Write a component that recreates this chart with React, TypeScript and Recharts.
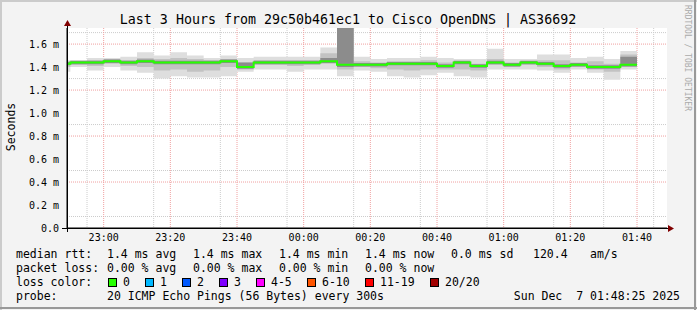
import { Area, CartesianGrid, ComposedChart, Line, XAxis, YAxis } from "recharts";

// 5-minute slots (start of each step), last one ends at endSlot
const slots = [
  "22:45", "22:50", "22:55", "23:00", "23:05", "23:10", "23:15", "23:20", "23:25",
  "23:30", "23:35", "23:40", "23:45", "23:50", "23:55", "00:00", "00:05", "00:10",
  "00:15", "00:20", "00:25", "00:30", "00:35", "00:40", "00:45", "00:50", "00:55",
  "01:00", "01:05", "01:10", "01:15", "01:20", "01:25", "01:30", "01:35",
];
const endSlot = "01:40";

// milliseconds
const median = [
  1.43, 1.44, 1.44, 1.45, 1.44, 1.45, 1.44, 1.44, 1.44, 1.44, 1.45, 1.4, 1.44, 1.44,
  1.44, 1.44, 1.45, 1.42, 1.42, 1.42, 1.43, 1.43, 1.43, 1.41, 1.44, 1.41, 1.44, 1.42,
  1.44, 1.43, 1.41, 1.42, 1.4, 1.4, 1.42,
];
const pingMax = [
  1.46, 1.46, 1.48, 1.48, 1.49, 1.53, 1.5, 1.53, 1.5, 1.48, 1.5, 1.48, 1.49, 1.49,
  1.49, 1.49, 1.57, 2.4, 1.49, 1.47, 1.48, 1.48, 1.49, 1.48, 1.47, 1.47, 1.56, 1.47,
  1.47, 1.51, 1.51, 1.48, 1.49, 1.47, 1.54,
];
const pingMin = [
  1.36, 1.4, 1.37, 1.4, 1.37, 1.35, 1.3, 1.32, 1.31, 1.31, 1.32, 1.36, 1.38, 1.38,
  1.36, 1.38, 1.38, 1.32, 1.37, 1.36, 1.32, 1.31, 1.33, 1.35, 1.32, 1.31, 1.38, 1.38,
  1.38, 1.37, 1.35, 1.38, 1.35, 1.29, 1.38,
];
const upper2 = [
  1.45, 1.45, 1.46, 1.47, 1.46, 1.48, 1.47, 1.48, 1.47, 1.46, 1.47, 1.44, 1.46, 1.46,
  1.46, 1.46, 1.52, 2.1, 1.45, 1.44, 1.45, 1.45, 1.46, 1.44, 1.45, 1.43, 1.47, 1.44,
  1.45, 1.46, 1.46, 1.44, 1.45, 1.43, 1.51,
];
const lower2 = [
  1.4, 1.42, 1.41, 1.43, 1.41, 1.4, 1.37, 1.38, 1.36, 1.37, 1.4, 1.38, 1.42, 1.42,
  1.41, 1.42, 1.43, 1.38, 1.4, 1.39, 1.38, 1.37, 1.38, 1.38, 1.38, 1.37, 1.42, 1.4,
  1.42, 1.4, 1.38, 1.4, 1.38, 1.36, 1.4,
];
const upper3 = [
  1.445, 1.455, 1.455, 1.465, 1.455, 1.465, 1.455, 1.455, 1.455, 1.455, 1.465, 1.44,
  1.455, 1.455, 1.455, 1.455, 1.48, 1.95, 1.435, 1.435, 1.445, 1.445, 1.445, 1.425,
  1.455, 1.425, 1.455, 1.435, 1.455, 1.445, 1.425, 1.435, 1.415, 1.415, 1.49,
];
const lower3 = [
  1.415, 1.425, 1.425, 1.435, 1.425, 1.435, 1.425, 1.425, 1.425, 1.425, 1.435, 1.385,
  1.425, 1.425, 1.425, 1.425, 1.435, 1.4, 1.405, 1.405, 1.415, 1.415, 1.415, 1.395,
  1.425, 1.395, 1.425, 1.405, 1.425, 1.415, 1.395, 1.405, 1.385, 1.385, 1.405,
];

const xLabels = ["23:00", "23:20", "23:40", "00:00", "00:20", "00:40", "01:00", "01:20", "01:40"];
const yTicks = [0, 0.2, 0.4, 0.6, 0.8, 1.0, 1.2, 1.4, 1.6];
const yMinor = [0.1, 0.3, 0.5, 0.7, 0.9, 1.1, 1.3, 1.5, 1.7];
const viewStart = "22:49";
const viewEnd = "01:49";

const lossLegend = [
  { label: "0", color: "#26ff00", x: 108 },
  { label: "1", color: "#00b8ff", x: 145 },
  { label: "2", color: "#0059ff", x: 182 },
  { label: "3", color: "#7e00ff", x: 219 },
  { label: "4-5", color: "#ff00ff", x: 256 },
  { label: "6-10", color: "#ff5500", x: 307 },
  { label: "11-19", color: "#ff0000", x: 365 },
  { label: "20/20", color: "#a10000", x: 430 },
];

const toMin = (s: string) => {
  const [h, m] = s.split(":").map(Number);
  const v = h * 60 + m;
  return h >= 12 ? v - 1440 : v;
};
const fmtTime = (v: number) => {
  const t = (v + 1440) % 1440;
  const h = Math.floor(t / 60);
  const m = t % 60;
  return `${String(h).padStart(2, "0")}:${String(m).padStart(2, "0")}`;
};

const rows = slots.map((s, i) => ({
  t: toMin(s),
  med: median[i],
  outer: [pingMin[i], pingMax[i]],
  mid: [lower2[i], upper2[i]],
  inner: [lower3[i], upper3[i]],
}));
const last = rows[rows.length - 1];
const data = [...rows, { ...last, t: toMin(endSlot) }];

const x0 = toMin(viewStart);
const x1 = toMin(viewEnd);
const minorX: number[] = [];
for (let t = Math.ceil(x0 / 5) * 5; t < x1; t += 5) if (t % 20 !== 0) minorX.push(t);

const mono = "'DejaVu Sans Mono', monospace";
const axisTick = { fontFamily: mono, fontSize: 10, fill: "#000" };

export default function App() {
  const legendFont = { fontFamily: mono, fontSize: 11.5, fill: "#000" };
  return (
    <div
      style={{
        position: "absolute",
        left: 0,
        top: 0,
        width: 697,
        height: 310,
        background: "#f3f3f3",
      }}
    >
      <ComposedChart
        width={697}
        height={310}
        data={data}
        margin={{ top: 28, right: 30, left: 0, bottom: 52 }}
      >
        <CartesianGrid
          fill="#fff"
          stroke="#cccccc"
          strokeDasharray="1 1"
          horizontalValues={yMinor}
          verticalValues={minorX}
        />
        <CartesianGrid
          stroke="#f0a0a0"
          strokeDasharray="1 1"
          horizontalValues={yTicks.slice(1)}
          verticalValues={xLabels.map(toMin)}
        />
        <XAxis
          type="number"
          dataKey="t"
          domain={[x0, x1]}
          allowDataOverflow
          ticks={xLabels.map(toMin)}
          tickFormatter={fmtTime}
          tick={axisTick}
          tickLine={false}
          tickSize={0}
          tickMargin={6}
          height={30}
          axisLine={{ stroke: "#000" }}
        />
        <YAxis
          type="number"
          domain={[0, 1.74]}
          allowDataOverflow
          ticks={yTicks}
          tickFormatter={(v: number) => (v === 0 ? "0.0" : `${v.toFixed(1)} m`)}
          tick={axisTick}
          tickLine={false}
          tickSize={3}
          tickMargin={5}
          width={67}
          axisLine={{ stroke: "#000" }}
        />
        <Area
          dataKey="outer"
          type="stepAfter"
          stroke="none"
          fill="#dedede"
          fillOpacity={1}
          dot={false}
          activeDot={false}
          isAnimationActive={false}
        />
        <Area
          dataKey="mid"
          type="stepAfter"
          stroke="none"
          fill="#c2c2c2"
          fillOpacity={1}
          dot={false}
          activeDot={false}
          isAnimationActive={false}
        />
        <Area
          dataKey="inner"
          type="stepAfter"
          stroke="none"
          fill="#8c8c8c"
          fillOpacity={1}
          dot={false}
          activeDot={false}
          isAnimationActive={false}
        />
        <Line
          dataKey="med"
          type="stepAfter"
          stroke="#26ff00"
          strokeWidth={2}
          dot={false}
          activeDot={false}
          isAnimationActive={false}
        />
      </ComposedChart>

      <svg
        width={697}
        height={310}
        style={{ position: "absolute", left: 0, top: 0, pointerEvents: "none" }}
      >
        {/* frame */}
        <line x1={0} y1={1} x2={697} y2={1} stroke="#cbcbcb" strokeWidth={2} />
        <line x1={1} y1={0} x2={1} y2={310} stroke="#cbcbcb" strokeWidth={2} />
        <line x1={0} y1={308} x2={697} y2={308} stroke="#999" strokeWidth={2} />
        <line x1={695} y1={0} x2={695} y2={310} stroke="#999" strokeWidth={2} />

        {/* axis extensions and arrows */}
        <line x1={62} y1={228.5} x2={669} y2={228.5} stroke="#000" />
        <line x1={67.5} y1={24} x2={67.5} y2={232} stroke="#000" />
        <polygon points="67.5,20 64,26 71,26" fill="#800000" />
        <polygon points="674,228.5 668,225 668,232" fill="#800000" />

        <text
          x={348}
          y={24}
          textAnchor="middle"
          style={{ fontFamily: mono, fontSize: 13.3, fill: "#000" }}
        >
          Last 3 Hours from 29c50b461ec1 to Cisco OpenDNS | AS36692
        </text>
        <text
          x={0}
          y={0}
          transform="translate(15,127) rotate(-90)"
          textAnchor="middle"
          style={legendFont}
        >
          Seconds
        </text>
        <text
          x={0}
          y={0}
          transform="translate(685,5) rotate(90)"
          style={{ fontFamily: mono, fontSize: 8, fill: "#aaa" }}
        >
          RRDTOOL / TOBI OETIKER
        </text>

        <g style={legendFont}>
          <text x={16} y={258}>median rtt:</text>
          <text x={107} y={258}>1.4 ms avg</text>
          <text x={193} y={258}>1.4 ms max</text>
          <text x={279} y={258}>1.4 ms min</text>
          <text x={365} y={258}>1.4 ms now</text>
          <text x={451} y={258}>0.0 ms sd</text>
          <text x={533} y={258}>120.4</text>
          <text x={590} y={258}>am/s</text>

          <text x={16} y={272}>packet loss:</text>
          <text x={107} y={272}>0.00 % avg</text>
          <text x={193} y={272}>0.00 % max</text>
          <text x={279} y={272}>0.00 % min</text>
          <text x={365} y={272}>0.00 % now</text>

          <text x={16} y={286}>loss color:</text>
          {lossLegend.map((l) => (
            <g key={l.label}>
              <rect x={l.x + 0.5} y={278.5} width={8} height={8} fill={l.color} stroke="#000" />
              <text x={l.x + 15} y={286}>{l.label}</text>
            </g>
          ))}

          <text x={16} y={300}>probe:</text>
          <text x={107} y={300}>20 ICMP Echo Pings (56 Bytes) every 300s</text>
          <text x={680} y={300} textAnchor="end" style={{ whiteSpace: "pre" }}>
            {"Sun Dec  7 01:48:25 2025"}
          </text>
        </g>
      </svg>
    </div>
  );
}
